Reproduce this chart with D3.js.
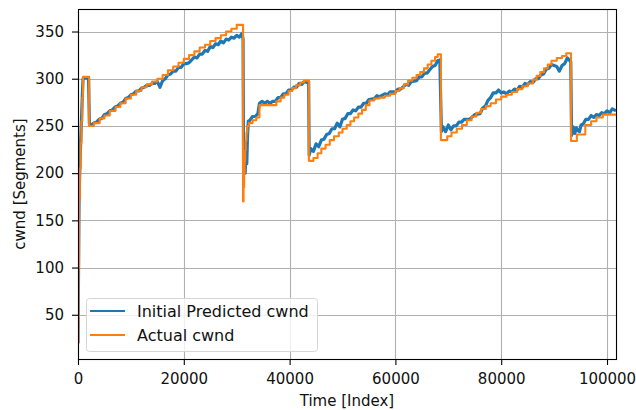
<!DOCTYPE html>
<html>
<head>
<meta charset="utf-8">
<script src="https://cdn.jsdelivr.net/npm/d3@7"></script>
<style>
  body { margin: 0; background: #fff; }
  svg { display: block; font-family: "DejaVu Sans", sans-serif; }
</style>
</head>
<body>
<div id="vis"></div>
<script>
// x ticks / y ticks shown on the axes
var xTicks = [0, 20000, 40000, 60000, 80000, 100000];
var yTicks = [50, 100, 150, 200, 250, 300, 350];
var lastIndex = 101700;

var seriesNames = ['Initial Predicted cwnd', 'Actual cwnd'];

// Actual cwnd: [index, value] where the step starts (drawn as step-after)
var actualCwnd = [
  [0, 20], [100, 100], [200, 172], [350, 205], [500, 232], [650, 255], [800, 280], [950, 302],
  [2100, 250], [3000, 253], [4100, 258], [5000, 261], [6000, 266], [7100, 270], [8000, 274],
  [9000, 279], [10000, 283], [11000, 287], [12000, 291], [13000, 294], [14000, 297], [15000, 300],
  [16000, 304], [17000, 309], [18000, 313], [19000, 317], [20000, 321], [21000, 325], [22000, 329],
  [23000, 333], [24000, 336], [25000, 340], [26000, 343], [27000, 346], [28000, 350], [29000, 353],
  [30000, 357],
  [31200, 170], [31300, 185], [31400, 200], [31500, 212], [31600, 224], [31700, 234], [31850, 243],
  [32000, 250], [32300, 253], [33000, 256], [33700, 259], [34300, 272], [37500, 276], [38300, 280],
  [39000, 283], [39800, 287], [40500, 290], [41200, 293], [42000, 296], [42700, 298],
  [43650, 213], [44500, 216], [45300, 221], [46000, 226], [46800, 230], [47600, 235], [48400, 239],
  [49300, 243], [50000, 247], [50800, 251], [51500, 255], [52200, 259], [53000, 263], [53700, 267],
  [54400, 272], [55100, 277], [56000, 279], [57000, 280], [58000, 282], [59000, 284], [60000, 287],
  [60800, 290], [61600, 294], [62400, 298], [63200, 301], [64000, 304], [64700, 307], [65400, 311],
  [66100, 315], [66800, 319], [67500, 323], [68000, 326],
  [68600, 235], [69800, 239], [70600, 243], [71600, 247], [72600, 251], [73500, 256], [74400, 260],
  [75300, 264], [76200, 268], [77100, 271], [78000, 274], [79000, 278], [80000, 281], [81000, 283],
  [82000, 286], [83000, 289], [84000, 292], [85000, 295], [86000, 299], [86700, 303], [87400, 307],
  [88100, 311], [88800, 315], [89500, 319], [90500, 322], [91500, 324], [92300, 327],
  [93200, 234], [94300, 241], [95900, 251], [97000, 255], [98000, 259], [99200, 262], [101700, 262]
];

// Initial predicted cwnd: [index, value]
var predictedCwnd = [
  [0, 20], [100, 100], [200, 172], [350, 205], [500, 232], [650, 255], [800, 280], [950, 300],
  [1500, 301], [2000, 300], [2150, 252], [2500, 251], [3000, 253], [3500, 254], [4000, 257],
  [4500, 258], [5000, 262], [5500, 263], [6000, 266], [6500, 267], [7000, 270], [7500, 271],
  [8000, 274], [8500, 275], [9000, 279], [9500, 280], [10000, 283], [10500, 284], [11000, 287],
  [11500, 287], [12000, 290], [12500, 291], [13000, 293], [13500, 293], [14000, 295], [14500, 295],
  [15000, 297], [15500, 291], [16000, 298], [16500, 300], [17000, 304], [17500, 305], [18000, 308],
  [18500, 308], [19000, 312], [19500, 312], [20000, 316], [20500, 316], [21000, 317], [21500, 320],
  [22000, 323], [22500, 322], [23000, 326], [23500, 326], [24000, 330], [24500, 329], [25000, 334],
  [25500, 333], [26000, 337], [26500, 336], [27000, 340], [27500, 338], [28000, 342], [28500, 341],
  [29000, 344], [29500, 343], [30000, 346], [30500, 344], [31000, 348], [31200, 342],
  [31300, 205], [31450, 225], [31600, 200], [31750, 228], [31900, 210], [32050, 240], [32200, 255],
  [32500, 256], [33000, 260], [33500, 260], [34000, 263], [34300, 274], [34800, 276], [35300, 274],
  [35800, 276], [36300, 274], [36800, 276], [37300, 276], [37800, 280], [38300, 280], [38800, 284],
  [39300, 284], [39800, 288], [40300, 288], [40800, 291], [41300, 291], [41800, 295], [42300, 294],
  [42800, 297], [43300, 296], [43600, 297],
  [43700, 219], [44000, 226], [44500, 223], [45000, 231], [45500, 228], [46000, 235], [46500, 236],
  [47000, 241], [47500, 242], [48000, 247], [48500, 247], [49000, 253], [49500, 249], [50000, 257],
  [50500, 258], [51000, 263], [51500, 263], [52000, 267], [52500, 266], [53000, 270], [53500, 270],
  [54000, 274], [54500, 274], [55000, 278], [56000, 279], [56500, 282], [57000, 281], [58000, 284],
  [58500, 283], [59000, 286], [60000, 286], [60500, 289], [61000, 289], [62000, 294], [62500, 293],
  [63000, 297], [64000, 298], [64500, 302], [65000, 302], [65500, 306], [66000, 306], [67000, 313],
  [67500, 314], [68000, 319], [68400, 320],
  [68700, 244], [69000, 249], [69500, 244], [70000, 251], [70500, 246], [71000, 250], [71500, 250],
  [72000, 254], [72500, 254], [73000, 257], [74000, 257], [75000, 262], [76000, 263], [76500, 269],
  [77000, 271], [77500, 277], [78000, 280], [78500, 285], [79000, 285], [79500, 288], [80000, 285],
  [80500, 286], [81000, 284], [81500, 287], [82000, 286], [82500, 289], [83000, 288], [83500, 292],
  [84000, 291], [84500, 295], [85000, 294], [85500, 297], [86000, 296], [86500, 300], [87000, 300],
  [87500, 304], [88000, 305], [88500, 310], [89000, 311], [89500, 315], [90000, 314], [90500, 313],
  [91000, 308], [91500, 314], [92000, 316], [92500, 322], [93000, 319], [93150, 318],
  [93300, 240], [93600, 249], [93900, 242], [94200, 248], [94500, 245], [94800, 244], [95100, 251],
  [95500, 252], [96000, 257], [96500, 257], [97000, 261], [97500, 259], [98000, 262], [98500, 261],
  [99000, 264], [99500, 263], [100000, 266], [100500, 264], [101000, 268], [101700, 266]
];

var colors = ['#1f77b4', '#ff7f0e'];

var width = 636, height = 410;
var margin = { top: 9, right: 20, bottom: 51, left: 78 };
var plotW = width - margin.left - margin.right;
var plotH = height - margin.top - margin.bottom;
var fontSize = 15;

var svg = d3.select('#vis').append('svg')
  .attr('width', width)
  .attr('height', height);

var g = svg.append('g')
  .attr('transform', 'translate(' + margin.left + ',' + margin.top + ')');

// y limits like matplotlib: data range plus 5% on both sides
var allVals = actualCwnd.concat(predictedCwnd).map(function (d) { return d[1]; });
var yMin = d3.min(allVals), yMax = d3.max(allVals);
var pad = (yMax - yMin) * 0.05;

var x = d3.scaleLinear().domain([0, lastIndex]).range([0, plotW]);
var y = d3.scaleLinear().domain([yMin - pad, yMax + pad]).range([plotH, 0]);

// grid
g.append('g')
  .selectAll('line')
  .data(xTicks)
  .enter().append('line')
  .attr('x1', function (d) { return Math.round(x(d)) + 0.5; })
  .attr('x2', function (d) { return Math.round(x(d)) + 0.5; })
  .attr('y1', 0).attr('y2', plotH)
  .attr('stroke', '#b0b0b0').attr('stroke-width', 1.1);

g.append('g')
  .selectAll('line')
  .data(yTicks)
  .enter().append('line')
  .attr('y1', function (d) { return Math.round(y(d)) + 0.5; })
  .attr('y2', function (d) { return Math.round(y(d)) + 0.5; })
  .attr('x1', 0).attr('x2', plotW)
  .attr('stroke', '#b0b0b0').attr('stroke-width', 1.1);

// lines
svg.append('defs').append('clipPath').attr('id', 'clip')
  .append('rect').attr('width', plotW).attr('height', plotH);

var predLine = d3.line()
  .x(function (d) { return x(d[0]); })
  .y(function (d) { return y(d[1]); });

var actualLine = d3.line()
  .curve(d3.curveStepAfter)
  .x(function (d) { return x(d[0]); })
  .y(function (d) { return y(d[1]); });

var lines = g.append('g').attr('clip-path', 'url(#clip)');

lines.append('path')
  .datum(predictedCwnd)
  .attr('d', predLine)
  .attr('fill', 'none')
  .attr('stroke', colors[0])
  .attr('stroke-width', 3.2)
  .attr('stroke-linejoin', 'round');

lines.append('path')
  .datum(actualCwnd)
  .attr('d', actualLine)
  .attr('fill', 'none')
  .attr('stroke', colors[1])
  .attr('stroke-width', 2.1)
  .attr('stroke-linejoin', 'round');

// axes
var xAxis = d3.axisBottom(x).tickValues(xTicks).tickFormat(d3.format('d'))
  .tickSizeInner(6).tickSizeOuter(0).tickPadding(8);
var yAxis = d3.axisLeft(y).tickValues(yTicks).tickFormat(d3.format('d'))
  .tickSizeInner(6).tickSizeOuter(0).tickPadding(8);

var xg = g.append('g').attr('transform', 'translate(0,' + plotH + ')').call(xAxis);
var yg = g.append('g').call(yAxis);

[xg, yg].forEach(function (ax) {
  ax.select('.domain').remove();
  ax.selectAll('line').attr('stroke', '#000').attr('stroke-width', 1.1);
  ax.selectAll('text').attr('font-size', fontSize).attr('fill', '#111')
    .attr('font-family', '"DejaVu Sans", sans-serif');
});

// spines
g.append('rect')
  .attr('x', 0.5).attr('y', 0.5)
  .attr('width', plotW).attr('height', plotH)
  .attr('fill', 'none').attr('stroke', '#000').attr('stroke-width', 1.1);

// axis labels
svg.append('text')
  .attr('x', margin.left + plotW / 2)
  .attr('y', 406)
  .attr('text-anchor', 'middle')
  .attr('font-size', fontSize).attr('fill', '#111')
  .text('Time [Index]');

svg.append('text')
  .attr('transform', 'translate(25,' + (margin.top + plotH / 2) + ') rotate(-90)')
  .attr('text-anchor', 'middle')
  .attr('font-size', fontSize).attr('fill', '#111')
  .text('cwnd [Segments]');

// legend
var legend = g.append('g').attr('transform', 'translate(8,289)');
legend.append('rect')
  .attr('x', 0.5).attr('y', 0.5)
  .attr('width', 231).attr('height', 53)
  .attr('rx', 3)
  .attr('fill', 'rgba(255,255,255,0.8)')
  .attr('stroke', '#d6d6d6').attr('stroke-width', 1);

seriesNames.forEach(function (name, i) {
  var row = legend.append('g').attr('transform', 'translate(0,' + (13 + i * 24) + ')');
  row.append('line')
    .attr('x1', 4).attr('x2', 39)
    .attr('y1', 0).attr('y2', 0)
    .attr('stroke', colors[i]).attr('stroke-width', 2.1);
  row.append('text')
    .attr('x', 51).attr('y', 5.5)
    .attr('font-size', 16).attr('fill', '#111')
    .text(name);
});
</script>
</body>
</html>
